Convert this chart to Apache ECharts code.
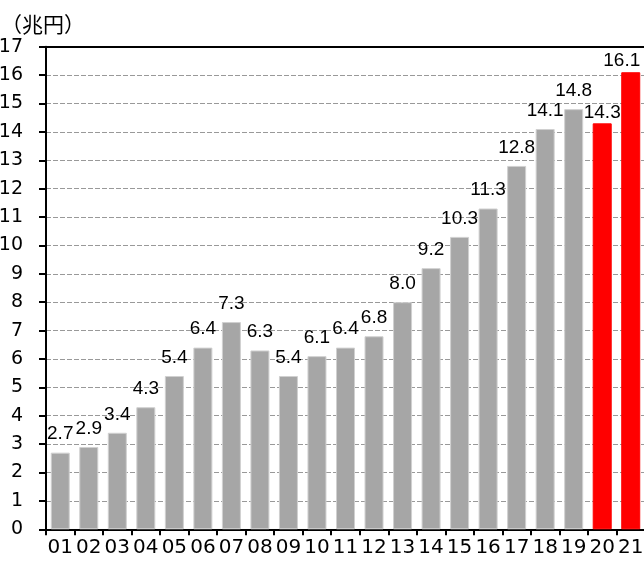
<!DOCTYPE html>
<html>
<head>
<meta charset="utf-8">
<script src="https://cdn.jsdelivr.net/npm/echarts@6/dist/echarts.min.js"></script>
<style>
  html, body { margin: 0; padding: 0; background: #fff; }
  #chart { width: 644px; height: 565px; }
</style>
</head>
<body>
<div id="chart"></div>
<script>
// Fiscal years (two-digit) and amounts in trillion yen
const years = ['01','02','03','04','05','06','07','08','09','10','11','12','13','14','15','16','17','18','19','20','21'];
const amounts = [2.7, 2.9, 3.4, 4.3, 5.4, 6.4, 7.3, 6.3, 5.4, 6.1, 6.4, 6.8, 8.0, 9.2, 10.3, 11.3, 12.8, 14.1, 14.8, 14.3, 16.1];
// Years drawn in red
const highlighted = ['20', '21'];
const unitLabel = '（兆円）';

const grayBar = '#a6a6a6';
const redBar = '#ff0000';
// Value labels of the red bars sit closer to the bar top; the last one is
// nudged left so it stays inside the canvas
const labelGap = { normal: 9, '20': 1, '21': 2 };
const labelShift = { '21': [-9, 0] };

const barData = amounts.map((v, i) => {
  const red = highlighted.includes(years[i]);
  return {
    value: v,
    itemStyle: red
      ? { color: redBar, borderColor: redBar }
      : { color: grayBar, borderColor: '#d0d0d0' },
    label: {
      distance: red ? labelGap[years[i]] : labelGap.normal,
      offset: labelShift[years[i]] || [0, 0]
    }
  };
});

const chart = echarts.init(document.getElementById('chart'), null, { renderer: 'canvas' });
chart.setOption({
  animation: false,
  backgroundColor: '#fff',
  textStyle: { fontFamily: 'Liberation Sans, Arial, sans-serif' },
  title: {
    text: unitLabel,
    left: 1,
    top: 14,
    padding: 0,
    textStyle: { fontFamily: 'Noto Sans CJK JP', fontSize: 21, lineHeight: 21, fontWeight: 'normal', color: '#000' }
  },
  grid: { left: 46, right: -1, top: 46.7, bottom: 35.7, containLabel: false, outerBoundsMode: 'none' },
  xAxis: [{
    type: 'category',
    data: years,
    axisLine: { lineStyle: { color: '#000', width: 2 } },
    axisTick: { show: true, length: 6, lineStyle: { color: '#000', width: 2 } },
    axisLabel: { color: '#000', fontSize: 20, margin: 8, interval: 0, fontFamily: 'DejaVu Sans' }
  }, {
    type: 'category',
    data: years,
    position: 'top',
    axisLine: { show: true, lineStyle: { color: '#000', width: 2 } },
    axisTick: { show: false },
    axisLabel: { show: false }
  }],
  yAxis: {
    type: 'value',
    min: 0,
    max: 17,
    interval: 1,
    axisLine: { show: true, lineStyle: { color: '#000', width: 2 } },
    axisTick: { show: true, length: 7, lineStyle: { color: '#000', width: 2 } },
    axisLabel: { color: '#000', fontSize: 19, margin: 23, fontFamily: 'DejaVu Sans' },
    splitLine: { show: true, lineStyle: { color: '#999', width: 1, type: [5, 2] } }
  },
  series: [{
    type: 'bar',
    data: barData,
    barWidth: 19,
    itemStyle: { borderWidth: 1 },
    label: {
      show: true,
      position: 'top',
      color: '#000',
      fontSize: 19,
      fontFamily: 'Liberation Sans',
      formatter: p => p.value.toFixed(1)
    }
  }]
});
</script>
</body>
</html>
